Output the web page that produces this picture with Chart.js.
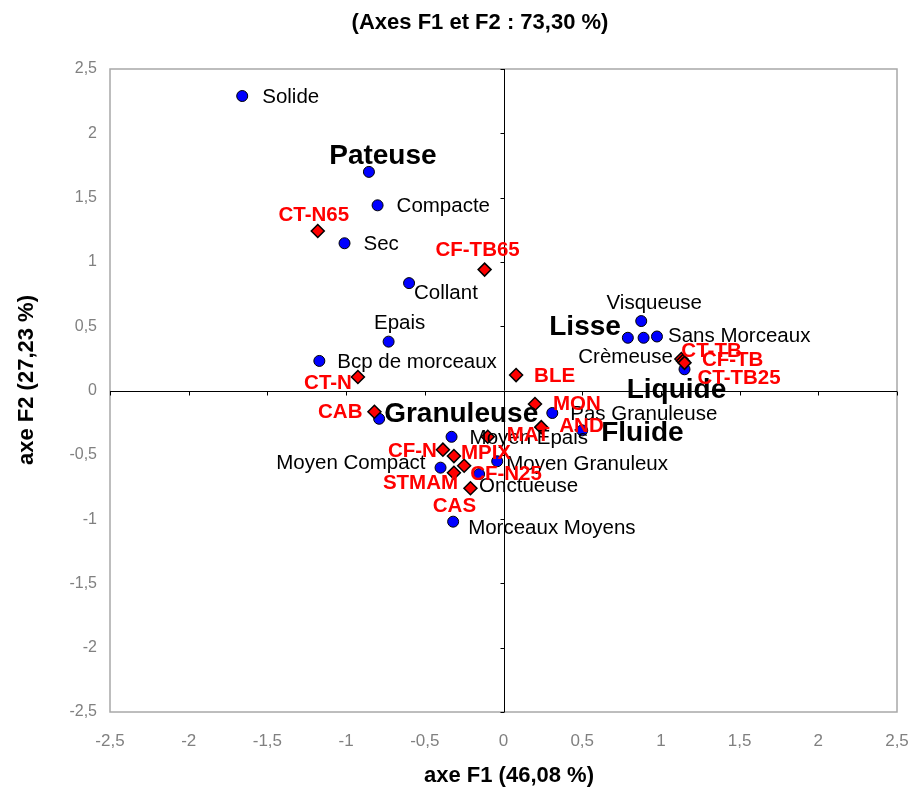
<!DOCTYPE html>
<html>
<head>
<meta charset="utf-8">
<title>Axes F1 et F2</title>
<script src="https://cdn.jsdelivr.net/npm/chart.js@4.4.1/dist/chart.umd.min.js"></script>
<style>
  body { margin: 0; background: #fff; }
  #wrap { width: 908px; height: 787px; }
</style>
</head>
<body>
<div id="wrap"><canvas id="grafico-acp" width="908" height="787"></canvas></div>
<script>
// Variables (cercles bleus)
const varNames = ["Solide", "Pateuse", "Compacte", "Sec", "Collant", "Epais", "Bcp de morceaux",
  "Granuleuse", "Moyen Epais", "Moyen Compact", "Moyen Granuleux", "Onctueuse", "Morceaux Moyens",
  "Pas Granuleuse", "Fluide", "Visqueuse", "Lisse", "Crèmeuse", "Sans Morceaux", "Liquide"];
const varF1 = [-1.66, -0.855, -0.80, -1.01, -0.60, -0.73, -1.17,
  -0.79, -0.33, -0.40, -0.04, -0.155, -0.32,
  0.31, 0.50, 0.875, 0.79, 0.89, 0.975, 1.15];
const varF2 = [2.29, 1.70, 1.44, 1.145, 0.835, 0.38, 0.23,
  -0.22, -0.36, -0.60, -0.55, -0.65, -1.02,
  -0.175, -0.31, 0.54, 0.41, 0.41, 0.42, 0.165];

// Produits (losanges rouges)
const obsNames = ["CT-N65", "CF-TB65", "CT-N", "BLE", "CAB", "MON", "MAT", "AND",
  "CF-N", "MPIX", "CF-N25", "STMAM", "CAS", "CT-TB", "CF-TB", "CT-TB25"];
const obsF1 = [-1.18, -0.12, -0.925, 0.08, -0.82, 0.20, -0.10, 0.24,
  -0.385, -0.315, -0.25, -0.315, -0.21, 1.13, 1.14, 1.15];
const obsF2 = [1.24, 0.94, 0.105, 0.12, -0.165, -0.105, -0.36, -0.285,
  -0.46, -0.51, -0.585, -0.64, -0.76, 0.245, 0.23, 0.215];

// Graduations des deux axes
const axisTicks = [-2.5, -2, -1.5, -1, -0.5, 0, 0.5, 1, 1.5, 2, 2.5];

// Libellés en gros caractères
const boldVars = ["Pateuse", "Granuleuse", "Lisse", "Liquide", "Fluide"];

// Décalage des étiquettes (px) : [dx, dy, alignement]
const labelPos = {
  "Solide": [20, 1, "left"], "Pateuse": [14, -16, "center"], "Compacte": [19, 1, "left"],
  "Sec": [19, 1, "left"], "Collant": [5, 10, "left"], "Epais": [11, -18, "center"],
  "Bcp de morceaux": [18, 1, "left"], "Granuleuse": [5, -5, "left"], "Moyen Epais": [18, 2, "left"],
  "Moyen Compact": [-15, -4, "right"], "Moyen Granuleux": [9, 3, "left"], "Onctueuse": [0, 12, "left"],
  "Morceaux Moyens": [15, 7, "left"], "Pas Granuleuse": [18, 1, "left"], "Fluide": [19, 3, "left"],
  "Visqueuse": [13, -18, "center"], "Lisse": [-7, -10, "right"], "Crèmeuse": [-18, 20, "center"],
  "Sans Morceaux": [11, 0, "left"], "Liquide": [-8, 21, "center"],
  "CT-N65": [-4, -16, "center"], "CF-TB65": [-7, -19, "center"], "CT-N": [-6, 6, "right"],
  "BLE": [18, 1, "left"], "CAB": [-12, 1, "right"], "MON": [18, 0, "left"],
  "MAT": [19, -1, "left"], "AND": [18, -1, "left"], "CF-N": [-6, 2, "right"],
  "MPIX": [7, -3, "left"], "CF-N25": [6, 9, "left"], "STMAM": [-71, 11, "left"],
  "CAS": [-16, 18, "center"], "CT-TB": [0, -8, "left"], "CF-TB": [19, -1, "left"],
  "CT-TB25": [13, 15, "left"]
};

function formatTick(v) {
  return (Math.round(v * 10) / 10).toString().replace(".", ",");
}

// Cadre gris, axes à zéro et titres
const cadrePlugin = {
  id: "cadre",
  beforeDatasetsDraw(chart) {
    const ctx = chart.ctx;
    const a = chart.chartArea;
    const sx = chart.scales.x, sy = chart.scales.y;
    ctx.save();
    ctx.strokeStyle = "#a8a8a8";
    ctx.lineWidth = 1.5;
    ctx.strokeRect(a.left, a.top, a.right - a.left, a.bottom - a.top);

    const x0 = Math.round(sx.getPixelForValue(0)) + 0.5;
    const y0 = Math.round(sy.getPixelForValue(0)) + 0.5;
    ctx.strokeStyle = "#000";
    ctx.lineWidth = 1;
    ctx.beginPath();
    ctx.moveTo(x0, a.top); ctx.lineTo(x0, a.bottom);
    ctx.moveTo(a.left, y0); ctx.lineTo(a.right, y0);
    axisTicks.forEach(v => {
      const px = Math.round(sx.getPixelForValue(v)) + 0.5;
      ctx.moveTo(px, y0); ctx.lineTo(px, y0 + 4);
      const py = Math.round(sy.getPixelForValue(v)) + 0.5;
      ctx.moveTo(x0 - 4, py); ctx.lineTo(x0, py);
    });
    ctx.stroke();
    ctx.restore();
  },
  afterDraw(chart) {
    const ctx = chart.ctx;
    ctx.save();
    ctx.fillStyle = "#000";
    ctx.textAlign = "center";
    ctx.textBaseline = "middle";
    ctx.font = "bold 22px 'Liberation Sans', Arial, sans-serif";
    ctx.fillText("(Axes F1 et F2 : 73,30 %)", 480, 23);
    ctx.fillText("axe F1 (46,08 %)", 509, 776);
    ctx.translate(27, 380);
    ctx.rotate(-Math.PI / 2);
    ctx.fillText("axe F2 (27,23 %)", 0, 0);
    ctx.restore();
  }
};

// Étiquettes des points
const etiquettesPlugin = {
  id: "etiquettes",
  afterDatasetsDraw(chart) {
    const ctx = chart.ctx;
    ctx.save();
    ctx.textBaseline = "middle";
    chart.data.datasets.forEach((ds, di) => {
      const meta = chart.getDatasetMeta(di);
      ds.noms.forEach((nom, i) => {
        const pt = meta.data[i];
        const pos = labelPos[nom] || [12, 0, "left"];
        if (ds.rouge) {
          ctx.fillStyle = "#ff0000";
          ctx.font = "bold 20.5px 'Liberation Sans', Arial, sans-serif";
        } else if (boldVars.includes(nom)) {
          ctx.fillStyle = "#000";
          ctx.font = "bold 28px 'Liberation Sans', Arial, sans-serif";
        } else {
          ctx.fillStyle = "#000";
          ctx.font = "20.5px 'Liberation Sans', Arial, sans-serif";
        }
        ctx.textAlign = pos[2];
        ctx.fillText(nom, pt.x + pos[0], pt.y + pos[1]);
      });
    });
    ctx.restore();
  }
};

const ctx = document.getElementById("grafico-acp").getContext("2d");
new Chart(ctx, {
  type: "scatter",
  data: {
    datasets: [
      {
        label: "Variables",
        noms: varNames,
        data: varF1.map((v, i) => ({ x: v, y: varF2[i] })),
        pointStyle: "circle",
        pointRadius: 5.5,
        backgroundColor: "#0000ff",
        borderColor: "#000",
        borderWidth: 1,
        order: 2
      },
      {
        label: "Produits",
        noms: obsNames,
        rouge: true,
        data: obsF1.map((v, i) => ({ x: v, y: obsF2[i] })),
        pointStyle: "rectRot",
        pointRadius: 6.5,
        backgroundColor: "#ff0000",
        borderColor: "#000",
        borderWidth: 1.5,
        order: 1
      }
    ]
  },
  options: {
    responsive: false,
    animation: false,
    layout: { padding: { left: 0, right: 11, top: 69, bottom: 0 } },
    plugins: {
      legend: { display: false },
      tooltip: { enabled: false },
      title: { display: false }
    },
    scales: {
      x: {
        type: "linear",
        min: -2.5,
        max: 2.5,
        afterBuildTicks: s => { s.ticks = axisTicks.map(v => ({ value: v })); },
        afterFit: s => { s.height = 75; s.paddingLeft = 0; s.paddingRight = 0; },
        grid: { display: false, drawTicks: false },
        border: { display: false },
        ticks: {
          padding: 19,
          color: "#808080",
          maxRotation: 0,
          autoSkip: false,
          font: { family: "'Liberation Sans Narrow', 'Arial Narrow', Arial, sans-serif", size: 17 },
          callback: v => formatTick(v)
        }
      },
      y: {
        type: "linear",
        min: -2.5,
        max: 2.5,
        afterBuildTicks: s => { s.ticks = axisTicks.map(v => ({ value: v })); },
        afterFit: s => { s.width = 110; s.paddingTop = 0; s.paddingBottom = 0; },
        grid: { display: false, drawTicks: false },
        border: { display: false },
        ticks: {
          padding: 13,
          color: "#808080",
          autoSkip: false,
          font: { family: "'Liberation Sans', Arial, sans-serif", size: 16 },
          callback: v => formatTick(v)
        }
      }
    }
  },
  plugins: [cadrePlugin, etiquettesPlugin]
});
</script>
</body>
</html>
